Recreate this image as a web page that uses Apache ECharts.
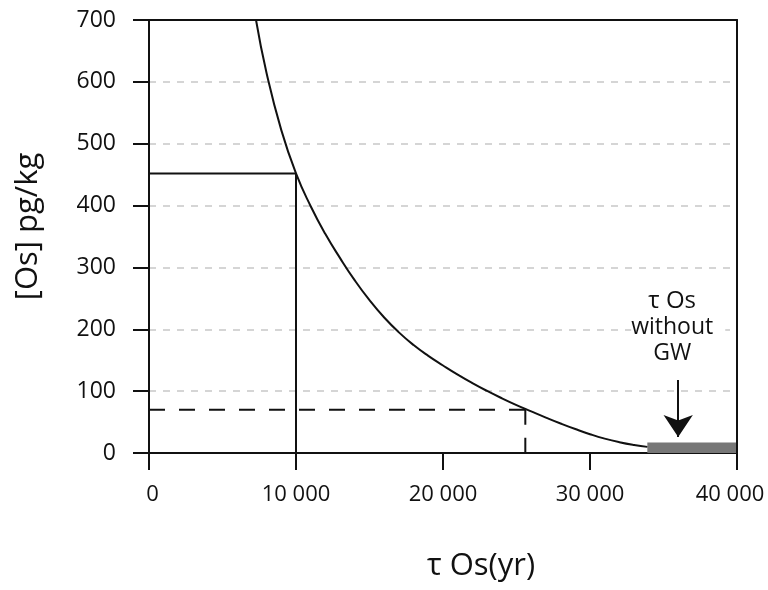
<!DOCTYPE html>
<html>
<head>
<meta charset="utf-8">
<script src="https://cdn.jsdelivr.net/npm/echarts@6/dist/echarts.min.js"></script>
<style>
  html, body { margin: 0; padding: 0; background: #fff; }
  #chart { width: 768px; height: 590px; }
</style>
</head>
<body>
<div id="chart"></div>
<script>
// curve: residence time (yr) vs [Os]
const curveX = [7280, 8000, 9000, 10000, 11000, 12000, 13000, 14000, 15000, 16000, 17000, 18000, 19000, 20000,
    21000, 22000, 23000, 24000, 25000, 26000, 27000, 28000, 29000, 30000, 31000, 32000, 33000, 33900];
const curveY = [700, 614, 522, 452, 399, 354, 315, 279, 247, 219, 195, 174.5, 157, 141.5,
    126.7, 113, 100.3, 88.5, 77.5, 67.3, 57.3, 47.7, 38.7, 30.4, 23.2, 17.4, 12.9, 9.9];

// guide lines (solid one at 10 000 yr, dashed one at 25 600 yr)
const solidGuide = [[0, 452], [10000, 452], [10000, 0]];
const dashedH = [[0, 70], [25600, 70]];
const dashedV = [[25600, 70], [25600, 0]];

// grey band "without GW" and the arrow pointing at it
const bandFrom = [33900, 0];
const bandTo = [40000, 17];
const arrowFrom = [36000, 118];
const arrowTo = [36000, 26];

const xTicks = [0, 10000, 20000, 30000, 40000];
const yTicks = [0, 100, 200, 300, 400, 500, 600, 700];

const font = 'Open Sans';
const ink = '#111';

function createChart(element, option) {
    let myChart = echarts.init(element);
    myChart.setOption(option);
    return myChart;
}

// frame on top / right side, no ticks or labels
const frameAxis = {
    type: 'value',
    axisLine: { show: true, onZero: false, lineStyle: { color: ink, width: 2 } },
    axisTick: { show: false },
    axisLabel: { show: false },
    splitLine: { show: false },
    z: 10
};

createChart(document.getElementById('chart'), {
    animation: false,
    backgroundColor: '#fff',
    textStyle: { fontFamily: font },
    grid: { left: 149, right: 31, top: 20, bottom: 137, outerBoundsMode: 'none' },
    xAxis: [{
        type: 'value',
        min: xTicks[0], max: xTicks[xTicks.length - 1], interval: 10000,
        name: 'τ Os(yr)',
        nameLocation: 'middle',
        nameGap: 98,
        nameTextStyle: { fontSize: 31, color: ink, fontFamily: font, padding: [0, 0, 0, 76] },
        axisLine: { onZero: false, lineStyle: { color: ink, width: 2 } },
        axisTick: { length: 17, lineStyle: { color: ink, width: 2 } },
        axisLabel: {
            fontSize: 22, color: ink, margin: 31, fontFamily: font,
            formatter: v => {
                const s = String(v).replace(/(\d)(?=(\d{3})+$)/g, '$1 ');
                if (v === xTicks[0]) return '{first|' + s + '}';
                if (v === xTicks[xTicks.length - 1]) return '{last|' + s + '}';
                return s;
            },
            rich: {
                first: { fontSize: 22, color: ink, fontFamily: font, padding: [0, 0, 0, 7] },
                last: { fontSize: 22, color: ink, fontFamily: font, padding: [0, 14, 0, 0] }
            }
        },
        splitLine: { show: false }
    }, Object.assign({ position: 'top', min: 0, max: 40000 }, frameAxis)],
    yAxis: [{
        type: 'value',
        min: yTicks[0], max: yTicks[yTicks.length - 1], interval: 100,
        name: '[Os] pg/kg',
        nameLocation: 'middle',
        nameRotate: 90,
        nameGap: 105,
        nameTextStyle: { fontSize: 31, color: ink, fontFamily: font, padding: [0, 0, 0, 20] },
        axisLine: { onZero: false, lineStyle: { color: ink, width: 2 } },
        axisTick: { length: 16, lineStyle: { color: ink, width: 2 } },
        axisLabel: { fontSize: 23, color: ink, margin: 33, fontFamily: font },
        splitLine: { show: true, lineStyle: { color: '#c8c8c8', width: 1.5, type: [7, 7] } }
    }, Object.assign({ position: 'right', min: 0, max: 700 }, frameAxis)],
    series: [
        {
            type: 'line',
            data: curveX.map((x, i) => [x, curveY[i]]),
            smooth: 0.5,
            showSymbol: false,
            lineStyle: { color: ink, width: 2 },
            silent: true,
            z: 5,
            markArea: {
                silent: true,
                itemStyle: { color: '#777' },
                data: [[{ coord: bandFrom }, { coord: bandTo }]]
            },
            markLine: {
                silent: true,
                symbol: ['none', 'arrow'],
                symbolSize: [22, 22],
                lineStyle: { color: ink, width: 2, type: 'solid' },
                label: {
                    show: true,
                    position: 'start',
                    distance: 14,
                    formatter: '{a|τ Os}\n{b|without}\n{b|GW}',
                    backgroundColor: '#fff',
                    padding: [0, 12, 0, 0],
                    rich: {
                        a: { fontSize: 24, lineHeight: 26, color: ink, fontFamily: font, align: 'center' },
                        b: { fontSize: 23, lineHeight: 26, color: ink, fontFamily: font, align: 'center' }
                    }
                },
                data: [[{ coord: arrowFrom }, { coord: arrowTo }]]
            }
        },
        {
            type: 'line',
            data: solidGuide,
            showSymbol: false,
            lineStyle: { color: ink, width: 2 },
            silent: true,
            z: 4
        },
        {
            type: 'line',
            data: dashedH,
            showSymbol: false,
            lineStyle: { color: ink, width: 2, type: [16, 14] },
            silent: true,
            z: 4
        },
        {
            type: 'line',
            data: dashedV,
            showSymbol: false,
            lineStyle: { color: ink, width: 2, type: [15, 13] },
            silent: true,
            z: 4
        }
    ]
});
</script>
</body>
</html>
